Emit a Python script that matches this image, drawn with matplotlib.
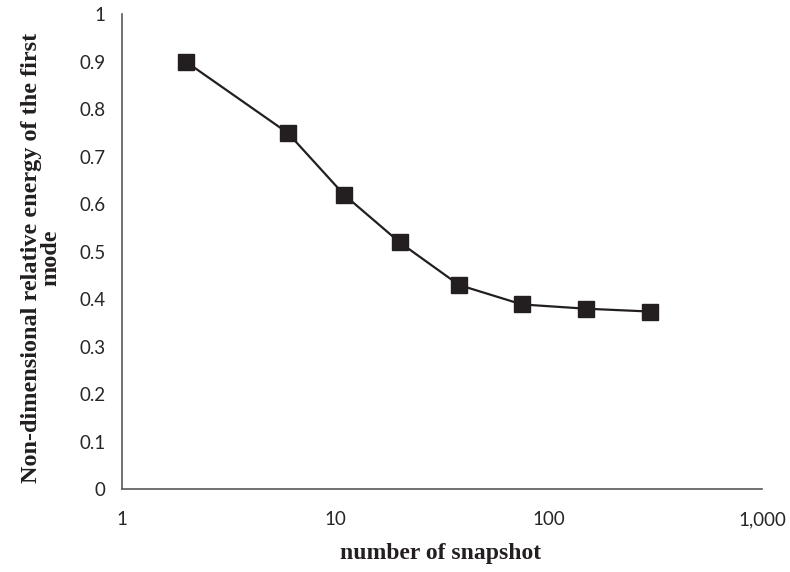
import matplotlib.pyplot as plt
import matplotlib.ticker as mticker

snapshots = [2, 6, 11, 20, 38, 75, 150, 300]
energy = [0.90, 0.75, 0.62, 0.52, 0.43, 0.389, 0.38, 0.374]

fig = plt.figure(figsize=(7.9, 5.72), dpi=100)
ax = fig.add_axes([0.1544, 0.145, 0.8102, 0.8297])

ax.plot(snapshots, energy, color='#231f20', linewidth=1.6,
        marker='s', markersize=12, markerfacecolor='#231f20', markeredgecolor='#231f20')

ax.set_xscale('log')
ax.set_xlim(1, 1000)
ax.set_ylim(0, 1)
ax.set_xticks([1, 10, 100, 1000])
ax.xaxis.set_major_formatter(mticker.FuncFormatter(lambda v, p: '{:,.0f}'.format(v)))
ax.xaxis.set_minor_locator(mticker.NullLocator())
ax.set_yticks([i / 10 for i in range(11)])
ax.yaxis.set_major_formatter(mticker.FuncFormatter(lambda v, p: '{:g}'.format(round(v, 1))))

for s in ['top', 'right']:
    ax.spines[s].set_visible(False)
for s in ['left', 'bottom']:
    ax.spines[s].set_color('#595959')
    ax.spines[s].set_linewidth(1.2)

ax.tick_params(length=0, labelsize=13.5, colors='#262626')
ax.tick_params(axis='x', pad=16)
ax.tick_params(axis='y', pad=12)
for lab in ax.get_xticklabels() + ax.get_yticklabels():
    lab.set_family('Lato')

# axis titles placed in figure coordinates
fig.text(0.558, 0.033, 'number of snapshot', family='Liberation Serif', fontweight='bold',
         fontsize=17, ha='center', va='center', color='#231f20')
fig.text(0.052, 0.549, 'Non-dimensional relative energy of the first\nmode', family='Liberation Serif',
         fontweight='bold', fontsize=17.5, ha='center', va='center', rotation=90,
         linespacing=0.85, multialignment='center', color='#231f20')

fig.savefig('out.png', dpi=100)
